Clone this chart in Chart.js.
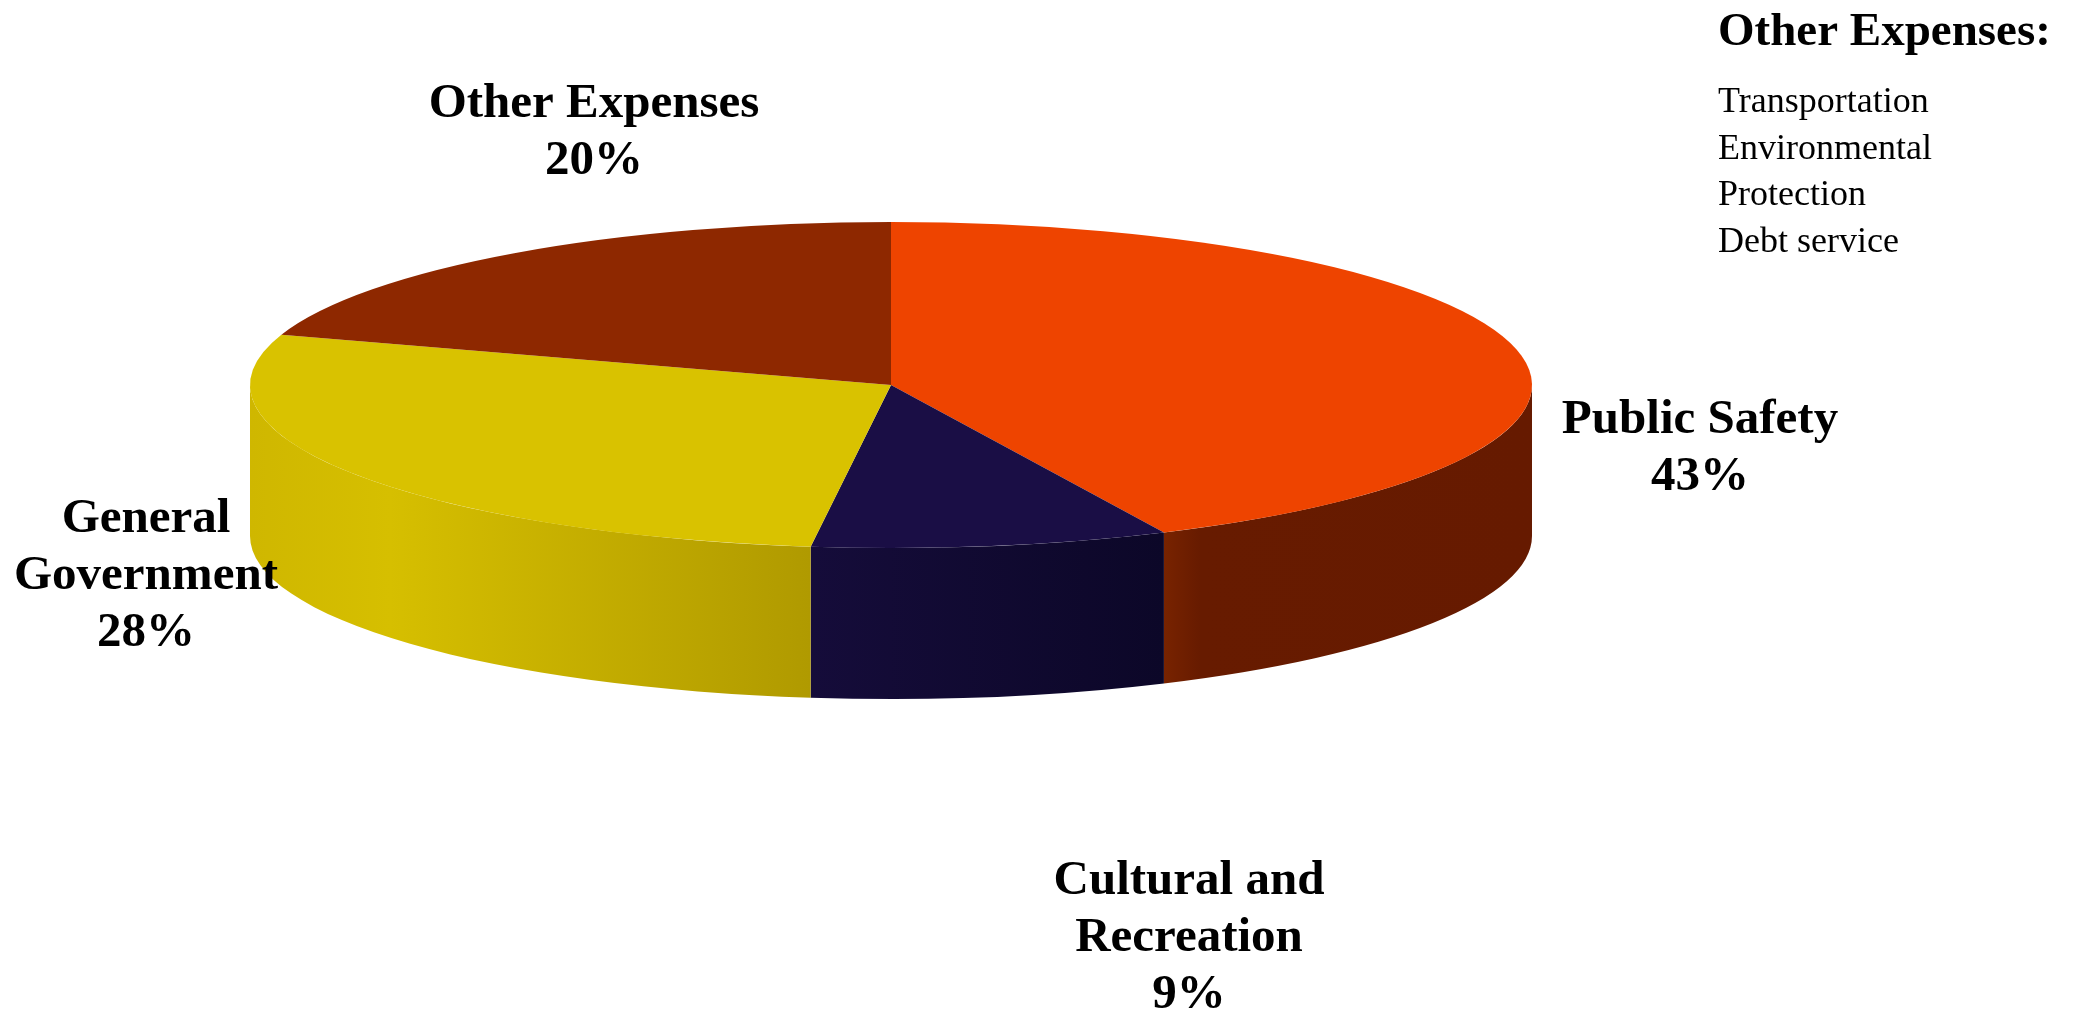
<!DOCTYPE html>
<html>
<head>
<meta charset="utf-8">
<script src="https://cdn.jsdelivr.net/npm/chart.js@4.4.1/dist/chart.umd.min.js"></script>
<style>
  html, body { margin: 0; padding: 0; background: #fff; }
  #wrap { width: 2083px; height: 1011px; position: relative; }
</style>
</head>
<body>
<div id="wrap"><canvas id="pie-3d"></canvas></div>
<script>
// data
const categories = ["Public Safety", "Cultural and Recreation", "General Government", "Other Expenses"];
const shares = [43, 9, 28, 20];
const labelLines = [
    ["Public Safety", "43%"],
    ["Cultural and", "Recreation", "9%"],
    ["General", "Government", "28%"],
    ["Other Expenses", "20%"],
];
const otherItems = ["Transportation", "Environmental", "Protection", "Debt service"];

// look
const topColors = ["#ee4400", "#1a0e45", "#d9c200", "#8e2800"];
const sideStops = [
    [[0, "#782300"], [0.1, "#671b00"], [1, "#661a00"]],
    [[0, "#150c3a"], [1, "#0c0728"]],
    [[0, "#cfb700"], [0.25, "#d6bf00"], [1, "#b09a00"]],
    [[0, "#6e1f00"], [1, "#5a1800"]],
];
const stretch = 641 / 163; // ellipse rx / ry
const depth = 151;
// label anchors (px), first line centre
const labelPos = [[1700, 420], [1189, 881], [146, 519], [594, 104]];
const lineGap = 57;

const pie3d = {
    id: "pie3d",
    beforeDatasetsDraw(chart) {
        const ctx = chart.ctx;
        const arcs = chart.getDatasetMeta(0).data;
        arcs.forEach((arc, i) => {
            const a0 = Math.max(arc.startAngle, 0);
            const a1 = Math.min(arc.endAngle, Math.PI);
            if (a1 <= a0) return;
            const cx = arc.x, cy = arc.y;
            const ry = arc.outerRadius, rx = ry * stretch;
            const xl = cx + rx * Math.cos(a1), xr = cx + rx * Math.cos(a0);
            const grad = ctx.createLinearGradient(xl, 0, xr, 0);
            sideStops[i].forEach(([p, c]) => grad.addColorStop(p, c));
            ctx.save();
            ctx.beginPath();
            ctx.ellipse(cx, cy, rx, ry, 0, a0, a1, false);
            ctx.ellipse(cx, cy + depth, rx, ry, 0, a1, a0, true);
            ctx.closePath();
            ctx.fillStyle = grad;
            ctx.fill();
            ctx.restore();
        });
        // squash the flat pie into the top ellipse
        const a = arcs[0];
        ctx.save();
        ctx.translate(a.x, a.y);
        ctx.scale(stretch, 1);
        ctx.translate(-a.x, -a.y);
    },
    afterDatasetsDraw(chart) {
        chart.ctx.restore();
    },
    afterDraw(chart) {
        const ctx = chart.ctx;
        ctx.save();
        ctx.fillStyle = "#000";
        ctx.textAlign = "center";
        ctx.textBaseline = "middle";
        ctx.font = 'bold 49px "Liberation Serif", "Times New Roman", serif';
        labelLines.forEach((lines, i) => {
            lines.forEach((t, j) => {
                ctx.fillText(t, labelPos[i][0], labelPos[i][1] + j * lineGap);
            });
        });
        // side note
        ctx.textAlign = "left";
        ctx.font = 'bold 47px "Liberation Serif", "Times New Roman", serif';
        ctx.fillText("Other Expenses:", 1718, 33);
        ctx.font = '36px "Liberation Serif", "Times New Roman", serif';
        otherItems.forEach((t, j) => {
            ctx.fillText(t, 1718, 103 + j * 46.5);
        });
        ctx.restore();
    },
};

const ctx1 = document.getElementById("pie-3d").getContext("2d");
const chart = new Chart(ctx1, {
    type: "pie",
    data: {
        labels: categories,
        datasets: [{
            data: shares,
            backgroundColor: topColors,
            borderWidth: 0,
            hoverOffset: 0,
        }],
    },
    options: {
        responsive: true,
        maintainAspectRatio: false,
        animation: false,
        events: [],
        layout: {
            padding: { left: 250, right: 551, top: 222, bottom: 463 },
        },
        plugins: {
            legend: { display: false },
            tooltip: { enabled: false },
        },
    },
    plugins: [pie3d],
});
</script>
</body>
</html>
